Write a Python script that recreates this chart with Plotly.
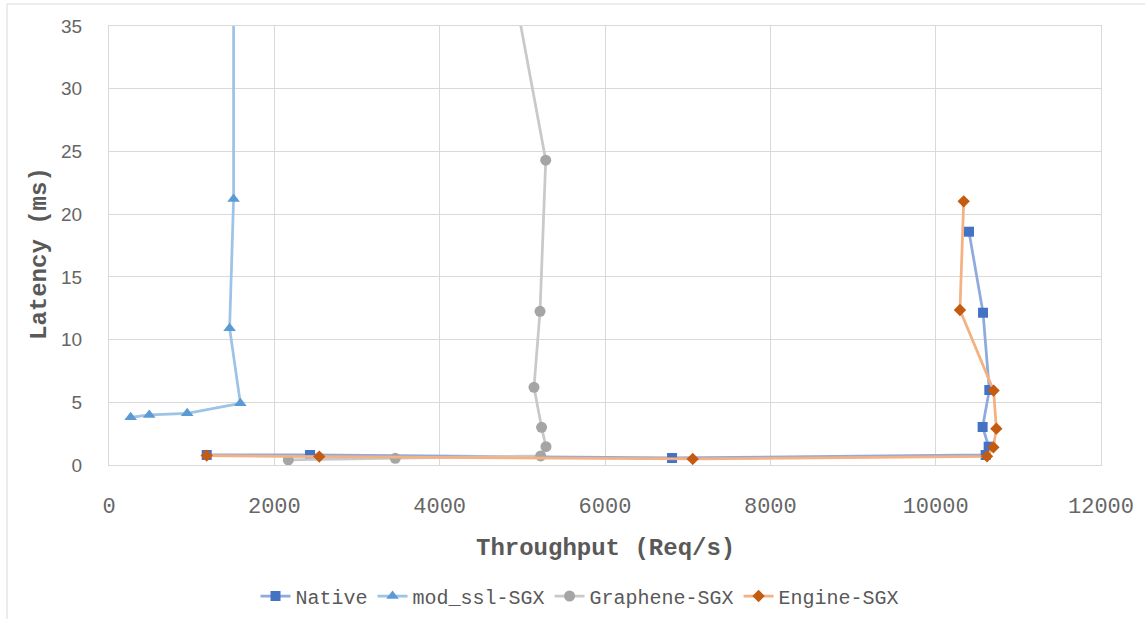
import plotly.graph_objects as go

# ---- data ----
native_x = [1182, 2432, 6811, 10605, 10641, 10568, 10649, 10573, 10403]
native_y = [0.80, 0.80, 0.56, 0.80, 1.46, 3.03, 5.98, 12.14, 18.6]

modssl_x = [262, 487, 946, 1589, 1459, 1507, 1507]
modssl_y = [3.80, 3.99, 4.12, 4.92, 10.9, 21.2, 60.0]

graphene_x = [2169, 3463, 5222, 5286, 5233, 5141, 5214, 5283, 4560]
graphene_y = [0.40, 0.53, 0.72, 1.46, 3.00, 6.19, 12.25, 24.3, 50.0]

engine_x = [1182, 2544, 7061, 10621, 10698, 10734, 10701, 10294, 10339]
engine_y = [0.75, 0.67, 0.48, 0.69, 1.41, 2.90, 5.93, 12.36, 21.02]

series_names = ["Native", "mod_ssl-SGX", "Graphene-SGX", "Engine-SGX"]
x_ticks = [0, 2000, 4000, 6000, 8000, 10000, 12000]
y_ticks = [0, 5, 10, 15, 20, 25, 30, 35]

W, H = 1145, 619
L, R, T, B = 109, 1101, 26, 465  # plot-area pixel box


def px_to_paper(px, py):
    return (px - L) / (R - L), (B - py) / (B - T)


fig = go.Figure()

styles = [
    (native_x, native_y, "#8FAADC", "#4472C4", "square", 10),
    (modssl_x, modssl_y, "#9DC3E6", "#5B9BD5", "triangle-up", 11),
    (graphene_x, graphene_y, "#C9C9C9", "#A5A5A5", "circle", 11),
    (engine_x, engine_y, "#F4B183", "#C55A11", "diamond", 9.5),
]
for name, (xs, ys, lc, mc, sym, ms) in zip(series_names, styles):
    fig.add_trace(go.Scatter(
        x=xs, y=ys, name=name, mode="lines+markers",
        line=dict(color=lc, width=2.75),
        marker=dict(color=mc, symbol=sym, size=ms, line=dict(width=0)),
    ))

grid = "#D9D9D9"
tick_font_x = dict(family="Liberation Mono", size=22, color="#666666")
tick_font_y = dict(family="Liberation Sans", size=19, color="#666666")

fig.update_xaxes(
    range=[0, 12000], tickvals=x_ticks, ticktext=[str(v) for v in x_ticks],
    showgrid=True, gridcolor=grid, gridwidth=1, zeroline=False,
    showline=True, linecolor=grid, linewidth=1, mirror=True,
    ticks="outside", ticklen=21, tickcolor="rgba(0,0,0,0)",
    tickfont=tick_font_x, automargin=False,
)
fig.update_yaxes(
    range=[0, 35], tickvals=y_ticks, ticktext=[str(v) for v in y_ticks],
    showgrid=True, gridcolor=grid, gridwidth=1, zeroline=False,
    showline=True, linecolor=grid, linewidth=1, mirror=True,
    ticks="outside", ticklen=22, tickcolor="rgba(0,0,0,0)",
    tickfont=tick_font_y, automargin=False,
)

title_font = dict(family="Liberation Mono", size=24, color="#595959", weight="bold")
xt = px_to_paper(605, 548)
yt = px_to_paper(40, 254)
lg = px_to_paper(580, 596)
bx0, by0 = px_to_paper(7, 630)
bx1, by1 = px_to_paper(1160, 4)

fig.update_layout(
    width=W, height=H,
    margin=dict(l=L, r=W - R, t=T, b=H - B, autoexpand=False),
    paper_bgcolor="white", plot_bgcolor="white",
    showlegend=True,
    legend=dict(
        orientation="h", x=lg[0], y=lg[1], xanchor="center", yanchor="middle",
        font=dict(family="Liberation Mono", size=20, color="#595959"),
        itemwidth=30, bgcolor="rgba(0,0,0,0)",
    ),
    annotations=[
        dict(text="Throughput (Req/s)", xref="paper", yref="paper",
             x=xt[0], y=xt[1], showarrow=False, xanchor="center", yanchor="middle",
             font=title_font),
        dict(text="Latency (ms)", xref="paper", yref="paper",
             x=yt[0], y=yt[1], showarrow=False, xanchor="center", yanchor="middle",
             textangle=-90, font=title_font),
    ],
    shapes=[
        dict(type="rect", xref="paper", yref="paper",
             x0=bx0, y0=by0, x1=bx1, y1=by1,
             line=dict(color="#D9D9D9", width=1), fillcolor="rgba(0,0,0,0)",
             layer="below"),
    ],
)

fig.write_html(
    "out.html",
    config={"displayModeBar": False},
    post_script="document.body.style.margin='0';document.body.style.overflow='hidden';",
)
